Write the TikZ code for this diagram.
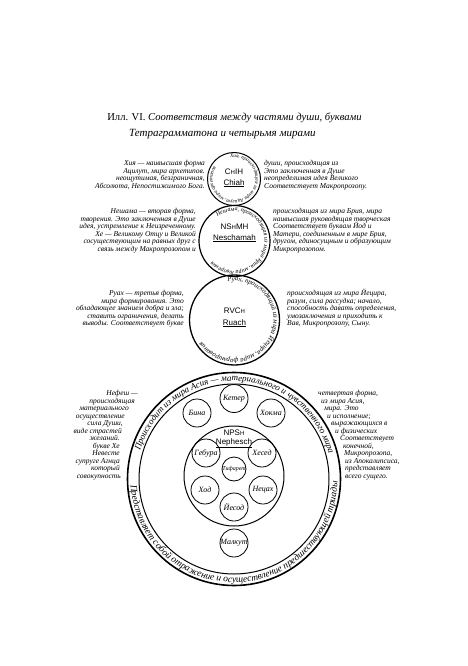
\documentclass[tikz,border=0pt]{standalone}
\usepackage{fontspec}
\setmainfont{Liberation Serif}
\newfontfamily\sansf{Liberation Sans}
\usetikzlibrary{decorations.text,calc}
\newcommand\smH{{\fontsize{6}{6}\selectfont H}}
\tikzset{
 lt/.style={font=\fontsize{7.5}{7.5}\selectfont\itshape, inner sep=0pt},
 ringc/.style={draw, circle, inner sep=0pt, outer sep=0pt},
 sef/.style={draw, circle, line width=0.8pt, minimum size=28pt, inner sep=0pt, font=\fontsize{8}{8}\selectfont\itshape},
 heb/.style={font=\fontsize{8}{8}\selectfont\sansf, inner sep=0pt, anchor=base},
 ttl/.style={font=\fontsize{10.6}{10.6}\selectfont, inner sep=0pt},
}
\begin{document}
\begin{tikzpicture}[x=1pt,y=1pt]
\fill[white] (0,0) rectangle (468,-666);
\useasboundingbox (0,0) rectangle (468,-666);

% title
\node[ttl, anchor=base] (t1) at (234.5,-121) {Илл. VI. \textit{Соответствия между частями души, буквами}};
\node[ttl, anchor=base west, font=\fontsize{11}{11}\selectfont\itshape] (t2) at (129,-136) {Тетраграмматона и четырьмя мирами};

% circles
\node[ringc, line width=1pt, minimum size=53pt] (c1) at (234,-179) {};
\node[ringc, line width=1.2pt, minimum size=71pt] (c2) at (234.5,-241) {};
\node[ringc, line width=1.3pt, minimum size=90pt] (c3) at (234.5,-320) {};
\node[ringc, line width=1.6pt, minimum size=213pt] (c4) at (234,-479) {};
\node[ringc, line width=1pt, minimum size=190pt] (c4i) at (c4.center) {};
\node[ringc, line width=1pt, minimum size=100pt] (c4n) at (234,-476) {};

% transliterations
\node[heb] (h1) at (234,-174) {C\smH IH};
\node[heb] (h1b) at (234,-185) {\underline{Chiah}};
\node[heb] (h2) at (234.5,-229) {NS\smH MH};
\node[heb] (h2b) at (234.5,-240) {\underline{Neschamah}};
\node[heb] (h3) at (234.5,-313) {RVC\smH};
\node[heb] (h3b) at (234.5,-325) {\underline{Ruach}};
\node[heb] (h4) at (234,-435) {NPS\smH};
\node[heb] (h4b) at (234,-444) {\underline{Nephesch}};

% ring texts of small circles
\path[decorate, decoration={text along path, text={|\fontsize{5.2}{5.2}\selectfont\itshape|Хия, происходящая из мира Ацилут, мира архетипов}}]
  ($(c1.center)+(100:21.5)$) arc[start angle=100, end angle=-250, radius=21.5];
\path[decorate, decoration={text along path, text={|\fontsize{6}{6}\selectfont\itshape|Нешама, происходящая из мира Брия, мира творения}}]
  ($(c2.center)+(125:30)$) arc[start angle=125, end angle=-230, radius=30];
\path[decorate, decoration={text along path, text={|\fontsize{6.8}{6.8}\selectfont\itshape|Руах, происходящий из мира Йецира, мира формирования}}]
  ($(c3.center)+(100:39)$) arc[start angle=100, end angle=-200, radius=39];

% ring texts of big circle
\path[decorate, decoration={text along path, text align=center, text={|\fontsize{9}{9}\selectfont\itshape|Происходит из мира Асия — материального и чувственного мира}}]
  ($(c4.center)+(170:98)$) arc[start angle=170, end angle=8, radius=98];
\path[decorate, decoration={text along path, text align=center, text={|\fontsize{9.5}{9.5}\selectfont\itshape|Представляет собой отражение и осуществление предшествующей триады}}]
  ($(c4.center)+(180:103.5)$) arc[start angle=180, end angle=362, radius=103.5];

% sephiroth
\node[sef] (keter) at (234,-398.5) {Кетер};
\node[sef] (bina) at (197,-413) {Бина};
\node[sef] (hokma) at (271,-413) {Хокма};
\node[sef] (gebura) at (206,-453) {Гебура};
\node[sef] (hesed) at (262,-453) {Хесед};
\node[sef, minimum size=24pt, font=\fontsize{6}{6}\selectfont\itshape] (tifaret) at (234,-469) {Тифарет};
\node[sef] (hod) at (205,-490) {Ход};
\node[sef] (netsah) at (263,-490) {Нецах};
\node[sef] (yesod) at (234,-507) {Йесод};
\node[sef] (malkut) at (234,-543) {Малкут};

% text block 1
\foreach \t [count=\i from 0] in {{Хия — наивысшая форма},{Ацилут, мира архетипов.},{неощутимая, безграничная,},{Абсолюта, Непостижимого Бога.}}
  \node[lt, anchor=base east] (aL\i) at (205,{-(165.5+7.5*\i)}) {\t};
\foreach \t [count=\i from 0] in {{души, происходящая из},{Это заключенная в Душе},{неопределимая идея Великого},{Соответствует Макропрозопу.}}
  \node[lt, anchor=base west] (aR\i) at (264,{-(165.5+7.5*\i)}) {\t};

% text block 2
\foreach \t [count=\i from 0] in {{Нешама — вторая форма,},{творения. Это заключенная в Душе},{идея, устремление к Неизреченному.},{Хе — Великому Отцу и Великой},{сосуществующим на равных друг с},{связь между Макропрозопом и}}
  \node[lt, anchor=base east] (bL\i) at (196,{-(213.5+7.5*\i)}) {\t};
\foreach \t [count=\i from 0] in {{происходящая из мира Брия, мира},{наивысшая руководящая творческая},{Соответствует буквам Йод и},{Матери, соединенным в мире Брия,},{другом, единосущным и образующим},{Микропрозопом.}}
  \node[lt, anchor=base west] (bR\i) at (273,{-(213.5+7.5*\i)}) {\t};

% text block 3
\foreach \t [count=\i from 0] in {{Руах — третья форма,},{мира формирования. Это},{обладающее знанием добра и зла;},{ставить ограничения, делать},{выводы. Соответствует букве}}
  \node[lt, anchor=base east] (cL\i) at (184,{-(295.5+7.5*\i)}) {\t};
\foreach \t [count=\i from 0] in {{происходящая из мира Йецира,},{разум, сила рассудка; начало,},{способность давать определения,},{умозаключения и приходить к},{Вав, Микропрозопу, Сыну.}}
  \node[lt, anchor=base west] (cR\i) at (287,{-(295.5+7.5*\i)}) {\t};

% text block 4
\foreach \t/\xx [count=\i from 0] in {{Нефеш —}/138,{происходящая}/135,{материального}/129,{осуществление}/125,{сила Души,}/123,{виде страстей}/122,{желаний.}/120,{букве Хе}/120,{Невесте}/120,{супруге Агнца}/120,{который}/120,{совокупность}/121}
  \node[lt, anchor=base east] (dL\i) at (\xx,{-(395.5+7.5*\i)}) {\t};
\foreach \t/\xx [count=\i from 0] in {{четвертая форма,}/318,{из мира Асия,}/321,{мира. Это}/324,{и исполнение;}/327,{выражающихся в}/331,{и физических}/335,{Соответствует}/340,{конечной,}/343,{Микропрозопа,}/344,{из Апокалипсиса,}/345,{представляет}/345,{всего сущего.}/345}
  \node[lt, anchor=base west] (dR\i) at (\xx,{-(395.5+7.5*\i)}) {\t};
\end{tikzpicture}
\end{document}
